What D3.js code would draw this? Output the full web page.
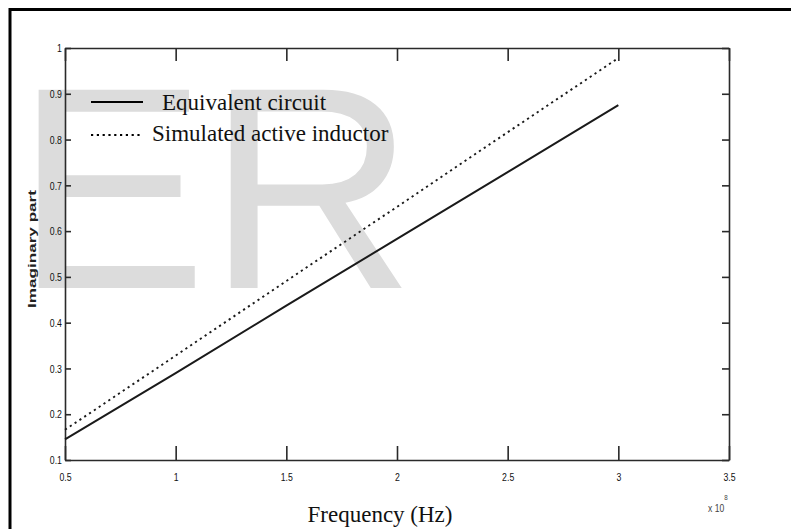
<!DOCTYPE html>
<html><head><meta charset="utf-8">
<script src="https://cdn.jsdelivr.net/npm/d3@7"></script>
<style>body{margin:0;background:#fff}svg{display:block}</style>
</head><body><svg id="c" width="791" height="529"></svg>
<script>
// ---- data ----
const freq = [0.5, 1.0, 1.5, 2.0, 2.5, 3.0];            // x 10^8 Hz
const equivalentCircuit = [0.145, 0.290, 0.437, 0.583, 0.729, 0.875];
const simulatedInductor = [0.166, 0.328, 0.491, 0.653, 0.816, 0.978];
const seriesNames = ["Equivalent circuit", "Simulated active inductor"];
const xTicks = [0.5, 1, 1.5, 2, 2.5, 3, 3.5];
const yTicks = [0.1, 0.2, 0.3, 0.4, 0.5, 0.6, 0.7, 0.8, 0.9, 1];
const xLabel = "Frequency (Hz)";
const yLabel = "Imaginary part";
const xExponent = "8";
const watermarkHidden = "IJS";
const watermarkShown = "ER";

const svg = d3.select("#c");
const x = d3.scaleLinear().domain([0.5, 3.5]).range([65, 729]);
const y = d3.scaleLinear().domain([0.1, 1]).range([460, 48]);

// watermark
const wmFont = "Liberation Sans, Arial, sans-serif";
svg.append("text").attr("font-family", wmFont).attr("font-size", 288).attr("fill", "#dcdcdc")
  .attr("x", 15).attr("y", 288).text(watermarkShown);
svg.append("text").attr("font-family", wmFont).attr("font-size", 288).attr("fill", "#dcdcdc")
  .attr("text-anchor", "end").attr("x", 11).attr("y", 288).text(watermarkHidden);

// frame
svg.append("path").attr("d", "M10,529 V9.5 H791").attr("fill", "none")
  .attr("stroke", "#000").attr("stroke-width", 3);

const axisColor = "#2a2a2a";
function styleAxis(g, labels) {
  g.select(".domain").attr("stroke", axisColor).attr("stroke-width", 1.6);
  g.selectAll(".tick line").attr("stroke", axisColor).attr("stroke-width", 1.6);
  if (!labels) g.selectAll(".tick text").remove();
  else g.selectAll(".tick text").attr("fill", "#111")
      .attr("font-family", "Liberation Sans, Arial, sans-serif").attr("font-size", 11.5);
}
const fmt = d => String(d);
svg.append("g").attr("transform", "translate(0,460)")
  .call(d3.axisBottom(x).tickValues(xTicks).tickFormat(fmt).tickSize(-14).tickSizeOuter(0).tickPadding(13))
  .call(g => styleAxis(g, true))
  .call(g => g.selectAll(".tick text").attr("transform", "scale(0.76,1)"));
svg.append("g").attr("transform", "translate(0,48)")
  .call(d3.axisTop(x).tickValues(xTicks).tickSize(-13).tickSizeOuter(0))
  .call(g => styleAxis(g, false));
svg.append("g").attr("transform", "translate(65,0)")
  .call(d3.axisLeft(y).tickValues(yTicks).tickFormat(fmt).tickSize(-6).tickSizeOuter(0).tickPadding(4))
  .call(g => styleAxis(g, true))
  .call(g => g.selectAll(".tick text").attr("transform", "scale(0.76,1)"));
svg.append("g").attr("transform", "translate(729,0)")
  .call(d3.axisRight(y).tickValues(yTicks).tickSize(-7).tickSizeOuter(0))
  .call(g => styleAxis(g, false));

// lines
const line = d3.line().x(d => x(d[0])).y(d => y(d[1]));
const styles = [
  {dash: null, width: 2},
  {dash: "2.2,3.6", width: 1.9}
];
[equivalentCircuit, simulatedInductor].forEach((vals, i) => {
  svg.append("path").datum(freq.map((f, k) => [f, vals[k]]))
    .attr("d", line).attr("fill", "none").attr("stroke", "#1a1a1a")
    .attr("stroke-width", styles[i].width)
    .attr("stroke-dasharray", styles[i].dash);
});

// legend
const leg = svg.append("g");
seriesNames.forEach((name, i) => {
  const ly = 102 + i * 33;
  leg.append("line").attr("x1", 91).attr("x2", 143).attr("y1", ly).attr("y2", ly)
    .attr("stroke", "#000").attr("stroke-width", i ? 2 : 2.2)
    .attr("stroke-dasharray", styles[i].dash);
  leg.append("text").attr("x", i ? 152 : 162).attr("y", 110 + i * 31)
    .attr("font-family", "Liberation Serif, Times New Roman, serif").attr("font-size", 23)
    .attr("fill", "#111").text(name);
});

// axis labels
svg.append("text").attr("x", 380).attr("y", 522).attr("text-anchor", "middle")
  .attr("font-family", "Liberation Serif, Times New Roman, serif").attr("font-size", 23)
  .attr("fill", "#111").text(xLabel);
svg.append("text").attr("transform", "translate(36,249) rotate(-90)").attr("text-anchor", "middle")
  .attr("font-family", "Liberation Sans, Arial, sans-serif").attr("font-size", 11)
  .attr("font-weight", "bold").attr("fill", "#222")
  .attr("textLength", 118).attr("lengthAdjust", "spacingAndGlyphs").text(yLabel);

// exponent
const ex = svg.append("text").attr("font-family", "Liberation Sans, Arial, sans-serif")
  .attr("fill", "#444").attr("transform", "translate(708,512) scale(0.78,1)");
ex.append("tspan").attr("font-size", 11).text("x 10");
ex.append("tspan").attr("font-size", 8).attr("dy", -12).text(xExponent);
</script></body></html>
